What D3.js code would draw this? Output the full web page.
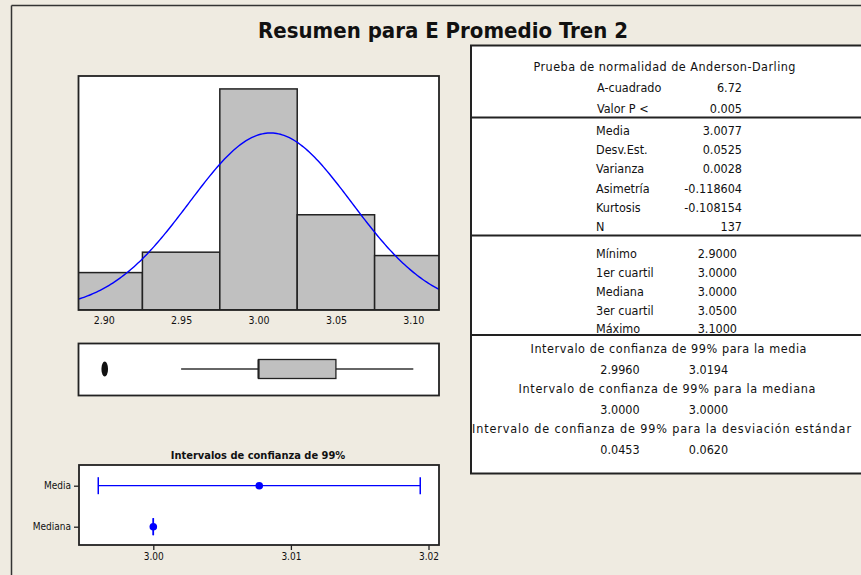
<!DOCTYPE html>
<html><head><meta charset="utf-8">
<script src="https://cdn.jsdelivr.net/npm/d3@7/dist/d3.min.js"></script>
<style>
html,body{margin:0;padding:0;background:#efebe1;}
svg{display:block;}
text{font-family:"DejaVu Sans Condensed","DejaVu Sans",sans-serif;font-stretch:condensed;fill:#111;}
</style></head>
<body>
<svg id="c" width="861" height="575"></svg>
<script>
// ---------- DATA ----------
const chartTitle = "Resumen para E Promedio Tren 2";
const binCenters = [2.90, 2.95, 3.00, 3.05, 3.10];
const binCounts = [11, 17, 65, 28, 16];
const binWidth = 0.05;
const histTicks = [2.90, 2.95, 3.00, 3.05, 3.10];
const sampleN = 137;
const sampleMean = 3.0077;
const sampleSd = 0.0525;
// box plot: lower whisker, Q1, median, Q3, upper whisker
const boxStats = [2.95, 3.00, 3.00, 3.05, 3.10];
const boxOutliers = [2.90];
// confidence intervals
const ciTitle = "Intervalos de confianza de 99%";
const ciLabels = ["Media", "Mediana"];
const ciLow = [2.9960, 3.0000];
const ciEst = [3.0077, 3.0000];
const ciHigh = [3.0194, 3.0000];
const ciTicks = [3.00, 3.01, 3.02];
// summary table
const adTitle = "Prueba de normalidad de Anderson-Darling";
const adLabels = ["A-cuadrado", "Valor P <"];
const adValues = ["6.72", "0.005"];
const descLabels = ["Media", "Desv.Est.", "Varianza", "Asimetría", "Kurtosis", "N"];
const descValues = ["3.0077", "0.0525", "0.0028", "-0.118604", "-0.108154", "137"];
const quantLabels = ["Mínimo", "1er cuartil", "Mediana", "3er cuartil", "Máximo"];
const quantValues = ["2.9000", "3.0000", "3.0000", "3.0500", "3.1000"];
const intTitles = ["Intervalo de confianza de 99% para la media",
                   "Intervalo de confianza de 99% para la mediana",
                   "Intervalo de confianza de 99% para la desviación estándar"];
const intLow = ["2.9960", "3.0000", "0.0453"];
const intHigh = ["3.0194", "3.0000", "0.0620"];

// ---------- DRAW ----------
const svg = d3.select("#c");
const dark = "#222";

// outer frame (top + left)
svg.append("line").attr("x1",11.5).attr("x2",861).attr("y1",5.5).attr("y2",5.5).attr("stroke","#333").attr("stroke-width",1.5);
svg.append("line").attr("x1",11.5).attr("x2",11.5).attr("y1",5.5).attr("y2",575).attr("stroke","#333").attr("stroke-width",1.5);

svg.append("text").attr("x",443).attr("y",38).attr("text-anchor","middle")
  .attr("font-size",22).attr("font-weight","bold").text(chartTitle);

// ----- histogram -----
const H = {l:78.5, t:76, r:439, b:310};
const x = d3.scaleLinear().domain([2.8837, 3.1166]).range([H.l, H.r]);
const y = d3.scaleLinear().domain([0, 68.8]).range([H.b, H.t]);
svg.append("rect").attr("x",H.l).attr("y",H.t).attr("width",H.r-H.l).attr("height",H.b-H.t).attr("fill","#fff");
svg.append("clipPath").attr("id","hclip").append("rect")
  .attr("x",H.l).attr("y",H.t).attr("width",H.r-H.l).attr("height",H.b-H.t);
const hg = svg.append("g").attr("clip-path","url(#hclip)");
hg.selectAll("rect.bar").data(binCenters).join("rect").attr("class","bar")
  .attr("x",d=>x(d-binWidth/2)).attr("width",d=>x(d+binWidth/2)-x(d-binWidth/2))
  .attr("y",(d,i)=>y(binCounts[i])).attr("height",(d,i)=>y(0)-y(binCounts[i]))
  .attr("fill","#c0c0c0").attr("stroke",dark).attr("stroke-width",1.5);
const pdf = v => Math.exp(-0.5*((v-sampleMean)/sampleSd)**2)/(sampleSd*Math.sqrt(2*Math.PI));
const cx = d3.range(0,201).map(i=>x.domain()[0]+(x.domain()[1]-x.domain()[0])*i/200);
hg.append("path").datum(cx)
  .attr("d", d3.line().x(d=>x(d)).y(d=>y(sampleN*binWidth*pdf(d))))
  .attr("fill","none").attr("stroke","#0000ff").attr("stroke-width",1.4);
svg.append("rect").attr("x",H.l).attr("y",H.t).attr("width",H.r-H.l).attr("height",H.b-H.t)
  .attr("fill","none").attr("stroke",dark).attr("stroke-width",1.8);
const hAxis = svg.append("g").attr("transform",`translate(0,${H.b})`)
  .call(d3.axisBottom(x).tickValues(histTicks).tickFormat(d3.format(".2f")).tickSize(0).tickPadding(7));
hAxis.select(".domain").remove();
hAxis.selectAll("text").attr("font-size",10.5).attr("fill","#222")
  .style("font-family",'"DejaVu Sans Condensed","DejaVu Sans",sans-serif');

// ----- boxplot -----
const B = {l:78.5, t:343.5, r:439, b:395.5};
const bc = 369;
svg.append("rect").attr("x",B.l).attr("y",B.t).attr("width",B.r-B.l).attr("height",B.b-B.t)
  .attr("fill","#fff").attr("stroke",dark).attr("stroke-width",1.8);
svg.append("line").attr("x1",x(boxStats[0])).attr("x2",x(boxStats[1])).attr("y1",bc).attr("y2",bc).attr("stroke","#333").attr("stroke-width",1.3);
svg.append("line").attr("x1",x(boxStats[3])).attr("x2",x(boxStats[4])).attr("y1",bc).attr("y2",bc).attr("stroke","#333").attr("stroke-width",1.3);
svg.append("rect").attr("x",x(boxStats[1])).attr("y",bc-9.5).attr("width",x(boxStats[3])-x(boxStats[1])).attr("height",19)
  .attr("fill","#c0c0c0").attr("stroke",dark).attr("stroke-width",1.3);
svg.append("line").attr("x1",x(boxStats[2])).attr("x2",x(boxStats[2])).attr("y1",bc-9.5).attr("y2",bc+9.5).attr("stroke",dark).attr("stroke-width",2);
svg.selectAll("ellipse.out").data(boxOutliers).join("ellipse").attr("class","out")
  .attr("cx",d=>x(d)+1).attr("cy",bc).attr("rx",3.3).attr("ry",7.5).attr("fill","#111");

// ----- CI plot -----
const C = {l:79, t:465, r:439, b:545};
const cxs = d3.scaleLinear().domain([3.00, 3.02]).range([153.3, 428.5]);
const cy = d3.scalePoint().domain(ciLabels).range([485.7, 526.7]);
svg.append("text").attr("x",258).attr("y",459).attr("text-anchor","middle")
  .attr("font-size",11).attr("font-weight","bold").text(ciTitle);
svg.append("rect").attr("x",C.l).attr("y",C.t).attr("width",C.r-C.l).attr("height",C.b-C.t)
  .attr("fill","#fff").attr("stroke",dark).attr("stroke-width",1.8);
const cxAxis = svg.append("g").attr("transform",`translate(0,${C.b})`)
  .call(d3.axisBottom(cxs).tickValues(ciTicks).tickFormat(d3.format(".2f")).tickSize(5).tickPadding(3));
cxAxis.select(".domain").remove();
cxAxis.selectAll("line").attr("stroke",dark).attr("stroke-width",1.3);
cxAxis.selectAll("text").attr("font-size",10).attr("fill","#222")
  .style("font-family",'"DejaVu Sans Condensed","DejaVu Sans",sans-serif');
const cyAxis = svg.append("g").attr("transform",`translate(${C.l},0)`)
  .call(d3.axisLeft(cy).tickSize(5).tickPadding(3));
cyAxis.select(".domain").remove();
cyAxis.selectAll("line").attr("stroke",dark).attr("stroke-width",1.3);
cyAxis.selectAll("text").attr("font-size",10).attr("fill","#222")
  .style("font-family",'"DejaVu Sans Condensed","DejaVu Sans",sans-serif');
const blue = "#0000ff";
ciLabels.forEach((lab,i)=>{
  const yy = cy(lab);
  svg.append("line").attr("x1",cxs(ciLow[i])).attr("x2",cxs(ciHigh[i])).attr("y1",yy).attr("y2",yy).attr("stroke",blue).attr("stroke-width",1.3);
  [ciLow[i], ciHigh[i]].forEach(v=>{
    svg.append("line").attr("x1",cxs(v)).attr("x2",cxs(v)).attr("y1",yy-8.5).attr("y2",yy+8.5).attr("stroke",blue).attr("stroke-width",1.5);
  });
  svg.append("circle").attr("cx",cxs(ciEst[i])).attr("cy",yy).attr("r",3.8).attr("fill",blue);
});

// ----- table -----
const T = {l:471, t:45.5, r:870, b:473.5};
svg.append("rect").attr("x",T.l).attr("y",T.t).attr("width",T.r-T.l).attr("height",T.b-T.t)
  .attr("fill","#fff").attr("stroke",dark).attr("stroke-width",2);
[117.5, 235.5, 335].forEach(yy=>{
  svg.append("line").attr("x1",T.l).attr("x2",T.r).attr("y1",yy).attr("y2",yy).attr("stroke",dark).attr("stroke-width",2);
});
const fs = 12.5;
const txt = (s,xx,yy,anchor)=>svg.append("text").attr("x",xx).attr("y",yy).attr("text-anchor",anchor)
  .attr("font-size",fs).attr("dominant-baseline","central").text(s);
txt(adTitle, 664.5, 66.5, "middle").attr("textLength",262).attr("lengthAdjust","spacing");
adLabels.forEach((s,i)=>{ txt(s, 597, 87.7+i*20.6, "start"); txt(adValues[i], 742, 87.7+i*20.6, "end"); });
descLabels.forEach((s,i)=>{ txt(s, 596, 130+i*19.35, "start"); txt(descValues[i], 742, 130+i*19.35, "end"); });
quantLabels.forEach((s,i)=>{ txt(s, 596, 253.3+i*18.9, "start"); txt(quantValues[i], 737, 253.3+i*18.9, "end"); });
const intWidths = [276, 297, 379];
const intCenters = [668.5, 667, 661.5];
intTitles.forEach((s,i)=>{
  txt(s, intCenters[i], 348.3+i*40, "middle").attr("textLength",intWidths[i]).attr("lengthAdjust","spacing");
  txt(intLow[i], 620, 369.3+i*40.3, "middle");
  txt(intHigh[i], 708.5, 369.3+i*40.3, "middle");
});
</script>
</body></html>
